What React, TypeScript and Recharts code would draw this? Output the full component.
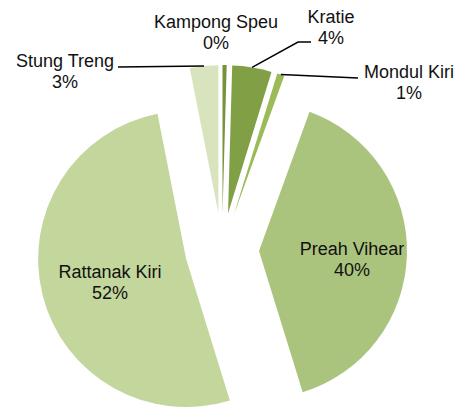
import { PieChart, Pie, Cell, Sector } from "recharts"

// provinces, clockwise from 12 o'clock
const provinces = ["Kampong Speu", "Kratie", "Mondul Kiri", "Preah Vihear", "Rattanak Kiri", "Stung Treng"]
const shares = [0.45, 4.3, 0.8, 39.7, 51.7, 3.1]
const sliceColors = ["#76923C", "#81A046", "#9BBB59", "#ABC47D", "#C3D69B", "#D7E4BD"]

// label placement (centre x, first baseline y) and leader line end points
const labelPos: Array<[number, number]> = [
  [216, 28],
  [331, 23],
  [409, 78],
  [352, 255],
  [110, 278],
  [65, 67],
]
const leaderEnds: Array<Array<[number, number]>> = [
  [],
  [[298, 42], [311, 42]],
  [[358, 78]],
  [],
  [],
  [[118, 67]],
]

const data = provinces.map((name, i) => ({ name, value: shares[i] }))

const EXPLODE = 37
const RAD = Math.PI / 180

const offsetOf = (midAngle: number) => ({
  dx: Math.cos(-midAngle * RAD) * EXPLODE,
  dy: Math.sin(-midAngle * RAD) * EXPLODE,
})

const ExplodedSector = (props: any) => {
  const { cx, cy, midAngle } = props
  const { dx, dy } = offsetOf(midAngle)
  return <Sector {...props} cx={cx + dx} cy={cy + dy} stroke="none" />
}

const renderLabel = (props: any) => {
  const { cx, cy, midAngle, outerRadius, percent, index, name } = props
  const { dx, dy } = offsetOf(midAngle)
  const sx = cx + dx + Math.cos(-midAngle * RAD) * outerRadius
  const sy = cy + dy + Math.sin(-midAngle * RAD) * outerRadius
  const [lx, ly] = labelPos[index]
  const ends = leaderEnds[index]
  const pts = [[sx, sy], ...ends].map((p) => p.join(",")).join(" ")
  return (
    <g key={`lbl-${index}`}>
      {ends.length > 0 && <polyline points={pts} fill="none" stroke="#000" strokeWidth={1.5} />}
      <text
        x={lx}
        y={ly}
        textAnchor="middle"
        fontFamily="'Liberation Sans', Arial, sans-serif"
        fontSize={18}
        fill="#111"
      >
        <tspan x={lx} y={ly}>{name}</tspan>
        <tspan x={lx} y={ly + 21}>{`${Math.round(percent * 100)}%`}</tspan>
      </text>
    </g>
  )
}

export default function App() {
  return (
    <div style={{ position: "absolute", left: 0, top: 0, width: 462, height: 408, background: "#fff" }}>
      <PieChart width={462} height={408} margin={{ top: 0, right: 0, bottom: 0, left: 0 }}>
        <Pie
          data={data}
          dataKey="value"
          nameKey="name"
          cx={222}
          cy={250}
          outerRadius={148}
          startAngle={90}
          endAngle={-270}
          stroke="none"
          shape={ExplodedSector}
          label={renderLabel}
          labelLine={false}
          isAnimationActive={false}
        >
          {data.map((d, i) => (
            <Cell key={d.name} fill={sliceColors[i]} />
          ))}
        </Pie>
      </PieChart>
    </div>
  )
}
